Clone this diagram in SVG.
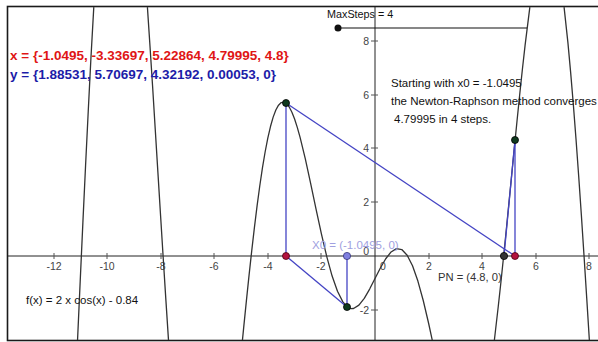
<svg xmlns="http://www.w3.org/2000/svg" width="598" height="342" viewBox="0 0 598 342">
<defs>
<clipPath id="plot"><rect x="8" y="7" width="590" height="333"/></clipPath>
<style>
text{font-family:"Liberation Sans",Arial,sans-serif;}
.tick{font-size:10.5px;fill:#444;}
.tk{stroke:#555;stroke-width:1;}
.axis{stroke:#222;stroke-width:1;fill:none;}
.curve{stroke:#333;stroke-width:1.3;fill:none;stroke-linejoin:round;}
.seg{stroke:#4444c4;stroke-width:1.3;fill:none;}
.lbl{font-size:11.5px;fill:#111;}
.grn{fill:#0f3a1e;stroke:#000;stroke-width:0.8;}
.red{fill:#b3123f;stroke:#4a0010;stroke-width:0.8;}
</style>
</defs>
<rect width="598" height="342" fill="#fff"/>
<g id="frame"><rect x="7.5" y="6.5" width="600" height="334" fill="none" stroke="#1a1a1a" stroke-width="1.6"/></g>
<g id="axes">
<line class="axis" x1="8" y1="256" x2="598" y2="256"/>
<line class="axis" x1="375" y1="7" x2="375" y2="340"/>
<g class="tk">
<line x1="54" y1="253" x2="54" y2="259"/><line x1="107" y1="253" x2="107" y2="259"/><line x1="161" y1="253" x2="161" y2="259"/><line x1="214" y1="253" x2="214" y2="259"/><line x1="268" y1="253" x2="268" y2="259"/><line x1="321" y1="253" x2="321" y2="259"/><line x1="429" y1="253" x2="429" y2="259"/><line x1="482" y1="253" x2="482" y2="259"/><line x1="536" y1="253" x2="536" y2="259"/><line x1="589" y1="253" x2="589" y2="259"/>
<line x1="371" y1="41" x2="378" y2="41"/><line x1="371" y1="95" x2="378" y2="95"/><line x1="371" y1="148" x2="378" y2="148"/><line x1="371" y1="202" x2="378" y2="202"/><line x1="371" y1="310" x2="378" y2="310"/>
</g>
<g class="tick" text-anchor="middle">
<text x="54" y="270">-12</text><text x="107" y="270">-10</text><text x="161" y="270">-8</text><text x="214" y="270">-6</text><text x="268" y="270">-4</text><text x="321" y="270">-2</text><text x="383" y="270">0</text><text x="429" y="270">2</text><text x="482" y="270">4</text><text x="536" y="270">6</text><text x="589" y="270">8</text>
</g>
<g class="tick" text-anchor="end">
<text x="369" y="45">8</text><text x="369" y="99">6</text><text x="369" y="152">4</text><text x="369" y="206">2</text><text x="369" y="255">0</text><text x="369" y="314">-2</text>
</g>
</g>
<g id="curve" clip-path="url(#plot)">
<path class="curve" d="M93.79,7.1 L90.92,58.33 L88.24,111.17 L85.56,165.81 L82.88,222.65 L80.2,281.16 L77.52,340.66"/>
<path class="curve" d="M147.41,7.1 L149.88,44.48 L152.56,85.69 L155.24,129.24 L157.92,172.63 L160.6,216.05 L163.28,259.03 L165.96,301.16 L168.49,340.04"/>
<path class="curve" d="M242.45,340.04 L243.68,327.64 L246.36,301.11 L249.04,275.41 L251.72,250.84 L254.4,227.62 L257.08,205.95 L259.76,186 L262.44,167.96 L265.12,152 L267.8,138.16 L270.48,126.53 L273.16,117.13 L275.84,110.04 L278.52,105.18 L281.2,102.53 L283.88,102.04 L286.56,103.55 L289.24,107.01 L291.92,112.25 L294.6,119.07 L297.28,127.33 L299.96,136.89 L305.32,158.91 L310.68,183.53 L316.04,209.04 L321.4,233.85 L326.76,256.59 L332.12,276.06 L337.48,291.33 L342.84,301.91 L348.2,307.58 L350.88,308.6 L353.56,308.49 L358.92,305.14 L364.28,298.34 L369.64,289.08 L375,278.55 L380.36,268.03 L385.72,258.77 L391.08,251.97 L396.44,248.62 L401.8,249.53 L407.16,255.19 L412.52,265.77 L417.88,281.05 L423.24,300.52 L428.6,323.26 L432.24,340.04"/>
<path class="curve" d="M494.39,340.04 L495.6,329.49 L498.28,306.26 L500.96,281.7 L503.64,256 L506.32,229.47 L509,202.38 L511.68,175.02 L514.36,147.74 L517.04,120.76 L519.72,94.5 L522.4,69.23 L525.08,45.31 L529.85,7.1"/>
<path class="curve" d="M564.07,7.1 L567.96,43.13 L570.64,72.35 L573.32,104.27 L576,138.96 L578.68,175.99 L581.36,215.08 L584.04,255.95 L586.72,298.07 L589.35,340.04"/>
</g>
<g id="connectors">
<line class="seg" x1="347" y1="256" x2="347" y2="307"/>
<line class="seg" x1="347" y1="307" x2="286" y2="256"/>
<line class="seg" x1="286" y1="256" x2="286" y2="103"/>
<line class="seg" x1="286" y1="103" x2="515" y2="256"/>
<line class="seg" x1="515" y1="256" x2="515" y2="140"/>
<line class="seg" x1="515" y1="140" x2="504" y2="256"/>
</g>
<g id="slider">
<line x1="338" y1="28" x2="527" y2="28" stroke="#111" stroke-width="1.2"/>
<circle cx="338" cy="28" r="3.5" fill="#111"/>
<text x="327" y="18" font-size="10.8" fill="#111">MaxSteps = 4</text>
</g>
<g id="x0"><circle cx="347" cy="256" r="3.6" fill="#7f7fe0" stroke="#33337a" stroke-width="0.8"/><text x="312" y="249" font-size="11.5" fill="#a0a0e0">X0 = (-1.0495, 0)</text></g>
<g id="p0"><circle class="grn" cx="347" cy="307" r="3.5"/></g>
<g id="x1"><circle class="red" cx="286" cy="256" r="3.5"/></g>
<g id="p1"><circle class="grn" cx="286" cy="103" r="3.5"/></g>
<g id="x2"><circle class="red" cx="515" cy="256" r="3.5"/></g>
<g id="p2"><circle class="grn" cx="515" cy="140" r="3.5"/></g>
<g id="pn"><circle cx="504" cy="256" r="3.6" fill="#333" stroke="#000" stroke-width="0.8"/><text x="438" y="281" font-size="11.2" fill="#333">PN = (4.8, 0)</text></g>
<g id="xlist"><text x="10" y="60" font-size="13.5" font-weight="bold" fill="#e01515">x = {-1.0495, -3.33697, 5.22864, 4.79995, 4.8}</text></g>
<g id="ylist"><text x="10" y="79" font-size="13.5" font-weight="bold" fill="#1c1ca8">y = {1.88531, 5.70697, 4.32192, 0.00053, 0}</text></g>
<g id="info">
<text class="lbl" x="391" y="87">Starting with x0 = -1.0495</text>
<text class="lbl" x="391" y="105">the Newton-Raphson method converges</text>
<text class="lbl" x="394" y="123">4.79995 in 4 steps.</text>
</g>
<g id="func"><text class="lbl" x="26" y="304">f(x) = 2 x cos(x) - 0.84</text></g>
</svg>
